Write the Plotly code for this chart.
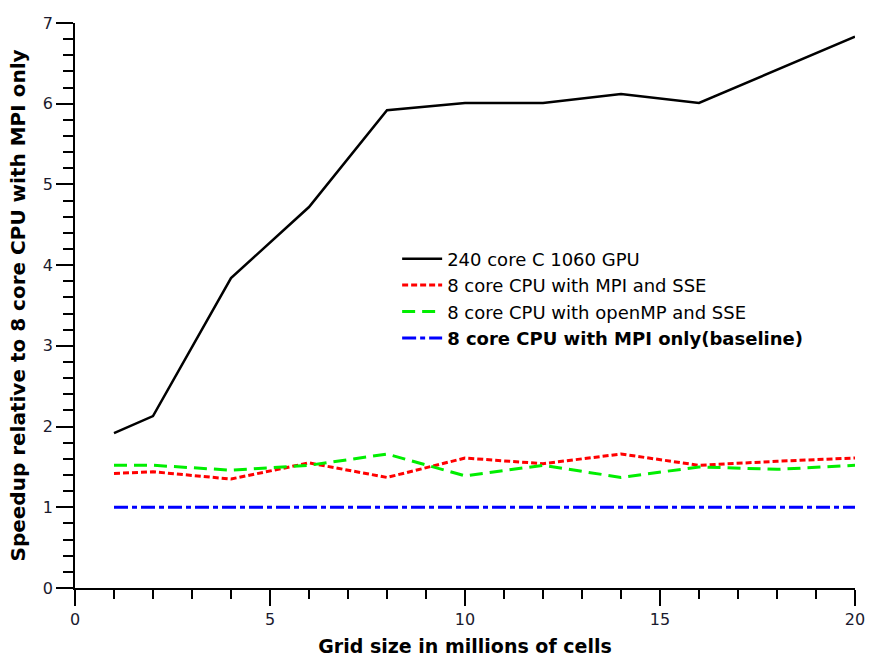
import plotly.graph_objects as go

# Grid sizes (millions of cells)
grid_sizes = [1, 2, 4, 6, 8, 10, 12, 14, 16, 18, 20]

# Speedup relative to the 8-core MPI-only baseline
gpu_240 = [1.92, 2.13, 3.84, 4.72, 5.92, 6.01, 6.01, 6.12, 6.01, 6.42, 6.83]
cpu_mpi_sse = [1.42, 1.44, 1.35, 1.55, 1.37, 1.61, 1.54, 1.66, 1.52, 1.57, 1.61]
cpu_omp_sse = [1.52, 1.52, 1.46, 1.52, 1.66, 1.39, 1.52, 1.37, 1.50, 1.47, 1.52]
cpu_mpi_only = [1.0] * len(grid_sizes)

series_names = [
    "240 core C 1060 GPU",
    "8 core CPU with MPI and SSE",
    "8 core CPU with openMP and SSE",
    "<b>8 core CPU with MPI only(baseline)</b>",
]

x_ticks = [0, 5, 10, 15, 20]
y_ticks = [0, 1, 2, 3, 4, 5, 6, 7]

fig = go.Figure()
fig.add_trace(go.Scatter(x=grid_sizes, y=gpu_240, mode="lines", name=series_names[0],
                         line=dict(color="black", width=2.5)))
fig.add_trace(go.Scatter(x=grid_sizes, y=cpu_mpi_sse, mode="lines", name=series_names[1],
                         line=dict(color="#ff0000", width=3, dash="6px,3px")))
fig.add_trace(go.Scatter(x=grid_sizes, y=cpu_omp_sse, mode="lines", name=series_names[2],
                         line=dict(color="#00ee00", width=3, dash="13px,7px")))
fig.add_trace(go.Scatter(x=grid_sizes, y=cpu_mpi_only, mode="lines", name=series_names[3],
                         line=dict(color="#0000ff", width=3, dash="14px,4px,5px,4px")))

font_family = "DejaVu Sans"

fig.update_layout(
    width=869, height=660,
    margin=dict(l=75, r=14, t=23, b=72),
    paper_bgcolor="white", plot_bgcolor="white",
    font=dict(family=font_family, color="#1a1a2e"),
    showlegend=True,
    legend=dict(x=0.413, y=0.615, xanchor="left", yanchor="top",
                bgcolor="rgba(0,0,0,0)", font=dict(size=18, color="black"),
                tracegroupgap=0, itemwidth=40),
    xaxis=dict(
        range=[0, 20], tickvals=x_ticks, showgrid=False, zeroline=False,
        automargin=False,
        showline=True, linecolor="black", linewidth=1.5,
        ticks="outside", ticklen=16, tickwidth=1.5, tickcolor="black",
        tickfont=dict(size=16, color="#1a1a2e"),
        minor=dict(dtick=1, ticks="outside", ticklen=9, tickwidth=1.5, tickcolor="black", showgrid=False),
        title=dict(text="<b>Grid size in millions of cells</b>", font=dict(size=19, color="black"), standoff=12),
    ),
    yaxis=dict(
        range=[0, 7], tickvals=y_ticks, showgrid=False, zeroline=False,
        automargin=False,
        showline=True, linecolor="black", linewidth=1.5,
        ticks="outside", ticklen=17, tickwidth=1.5, tickcolor="black",
        tickfont=dict(size=16, color="#1a1a2e"),
        minor=dict(dtick=0.2, ticks="outside", ticklen=10, tickwidth=1.5, tickcolor="black", showgrid=False),
        title=dict(text="<b>Speedup relative to 8 core CPU with MPI only</b>", font=dict(size=20, color="black"), standoff=12),
    ),
)

fig.write_html("out.html")
